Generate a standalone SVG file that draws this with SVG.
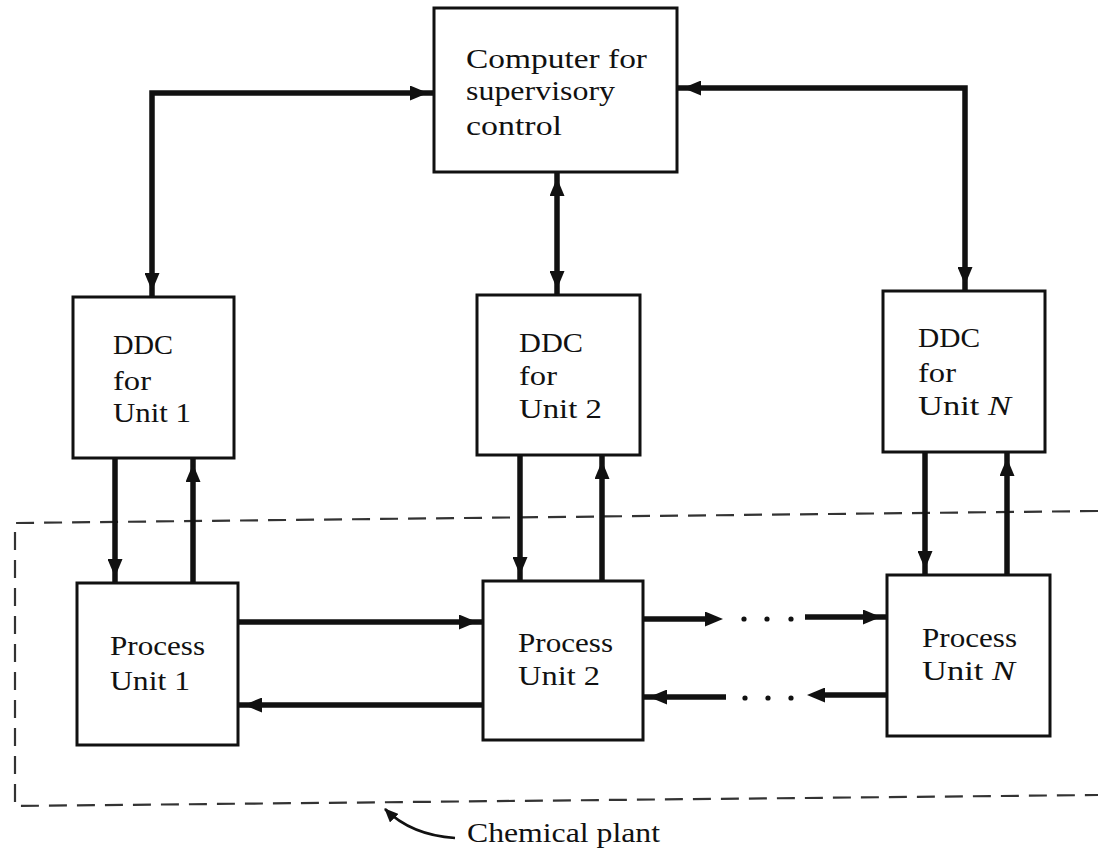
<svg xmlns="http://www.w3.org/2000/svg" width="1098" height="852" viewBox="0 0 1098 852">
<style>
.box{fill:#fff;stroke:#111;stroke-width:3}
.t{font-family:"Liberation Serif","Times New Roman",serif;font-size:27px;fill:#111}
.c{fill:none;stroke:#111;stroke-width:5.5;stroke-linejoin:miter}
.d{fill:#111}
.bd{fill:none;stroke:#333;stroke-width:2.2;stroke-dasharray:18 10}
.thin{fill:none;stroke:#111;stroke-width:2.5}
</style>
<defs>
<marker id="ah" viewBox="0 0 18 15" refX="24" refY="7.5" markerWidth="18" markerHeight="15" markerUnits="userSpaceOnUse" orient="auto-start-reverse"><path d="M0,0 L18,7.5 L0,15 Z" fill="#111"/></marker>
<marker id="aht" viewBox="0 0 18 15" refX="8" refY="7.5" markerWidth="18" markerHeight="15" markerUnits="userSpaceOnUse" orient="auto-start-reverse"><path d="M0,0 L18,7.5 L0,15 Z" fill="#111"/></marker>
<marker id="sm" viewBox="0 0 14 12" refX="13" refY="6" markerWidth="14" markerHeight="12" markerUnits="userSpaceOnUse" orient="auto"><path d="M0,0 L14,6 L0,12 Z" fill="#111"/></marker>
</defs>
<rect width="1098" height="852" fill="#fff"/>

<g id="plant-boundary">
<path class="bd" d="M1098,511 L15,523 L15,806 L1098,795"/>
<path class="thin" d="M455,838 C425,836 402,826 385,809" marker-end="url(#sm)"/>
<text class="t" x="467" y="842" textLength="193" lengthAdjust="spacingAndGlyphs">Chemical plant</text>
</g>

<g id="connectors">
<path class="c" d="M152,297 L152,93 L434,93" marker-start="url(#ah)" marker-end="url(#ah)"/>
<path class="c" d="M965,291 L965,88 L677,88" marker-start="url(#ah)" marker-end="url(#ah)"/>
<path class="c" d="M557,172 L557,295" marker-start="url(#ah)" marker-end="url(#ah)"/>
<path class="c" d="M115,458 L115,583" marker-end="url(#ah)"/>
<path class="c" d="M193,583 L193,458" marker-end="url(#ah)"/>
<path class="c" d="M520,455 L520,581" marker-end="url(#ah)"/>
<path class="c" d="M602,581 L602,455" marker-end="url(#ah)"/>
<path class="c" d="M925,452 L925,575" marker-end="url(#ah)"/>
<path class="c" d="M1007,575 L1007,452" marker-end="url(#ah)"/>
<path class="c" d="M238,622 L483,622" marker-end="url(#ah)"/>
<path class="c" d="M483,705 L238,705" marker-end="url(#ah)"/>
<path class="c" d="M643,619 L713,619" marker-end="url(#aht)"/>
<path class="c" d="M805,617 L887,617" marker-end="url(#ah)"/>
<path class="c" d="M887,695 L817,695" marker-end="url(#aht)"/>
<path class="c" d="M726,697 L643,697" marker-end="url(#ah)"/>
<circle class="d" cx="744" cy="619" r="2.6"/>
<circle class="d" cx="767" cy="619" r="2.6"/>
<circle class="d" cx="791" cy="619" r="2.6"/>
<circle class="d" cx="745" cy="698" r="2.6"/>
<circle class="d" cx="768" cy="698" r="2.6"/>
<circle class="d" cx="791" cy="698" r="2.6"/>
</g>

<g id="computer">
<rect class="box" x="434" y="8" width="243" height="164"/>
<text class="t" x="466" y="68" textLength="181" lengthAdjust="spacingAndGlyphs">Computer for</text>
<text class="t" x="466" y="100" textLength="149" lengthAdjust="spacingAndGlyphs">supervisory</text>
<text class="t" x="466" y="135" textLength="96" lengthAdjust="spacingAndGlyphs">control</text>
</g>

<g id="ddc1">
<rect class="box" x="73" y="297" width="161" height="161"/>
<text class="t" x="113" y="354" textLength="60" lengthAdjust="spacingAndGlyphs">DDC</text>
<text class="t" x="113" y="390" textLength="38" lengthAdjust="spacingAndGlyphs">for</text>
<text class="t" x="113" y="422" textLength="78" lengthAdjust="spacingAndGlyphs">Unit 1</text>
</g>

<g id="ddc2">
<rect class="box" x="477" y="295" width="163" height="160"/>
<text class="t" x="519" y="352" textLength="64" lengthAdjust="spacingAndGlyphs">DDC</text>
<text class="t" x="519" y="385" textLength="38" lengthAdjust="spacingAndGlyphs">for</text>
<text class="t" x="519" y="418" textLength="83" lengthAdjust="spacingAndGlyphs">Unit 2</text>
</g>

<g id="ddcN">
<rect class="box" x="883" y="291" width="162" height="161"/>
<text class="t" x="918" y="347" textLength="62" lengthAdjust="spacingAndGlyphs">DDC</text>
<text class="t" x="918" y="382" textLength="38" lengthAdjust="spacingAndGlyphs">for</text>
<text class="t" x="918" y="415" textLength="93" lengthAdjust="spacingAndGlyphs">Unit <tspan font-style="italic">N</tspan></text>
</g>

<g id="process1">
<rect class="box" x="77" y="583" width="161" height="162"/>
<text class="t" x="110" y="655" textLength="95" lengthAdjust="spacingAndGlyphs">Process</text>
<text class="t" x="110" y="690" textLength="80" lengthAdjust="spacingAndGlyphs">Unit 1</text>
</g>

<g id="process2">
<rect class="box" x="483" y="581" width="160" height="159"/>
<text class="t" x="518" y="652" textLength="95" lengthAdjust="spacingAndGlyphs">Process</text>
<text class="t" x="518" y="685" textLength="82" lengthAdjust="spacingAndGlyphs">Unit 2</text>
</g>

<g id="processN">
<rect class="box" x="887" y="575" width="163" height="161"/>
<text class="t" x="922" y="647" textLength="95" lengthAdjust="spacingAndGlyphs">Process</text>
<text class="t" x="922" y="680" textLength="93" lengthAdjust="spacingAndGlyphs">Unit <tspan font-style="italic">N</tspan></text>
</g>
</svg>
